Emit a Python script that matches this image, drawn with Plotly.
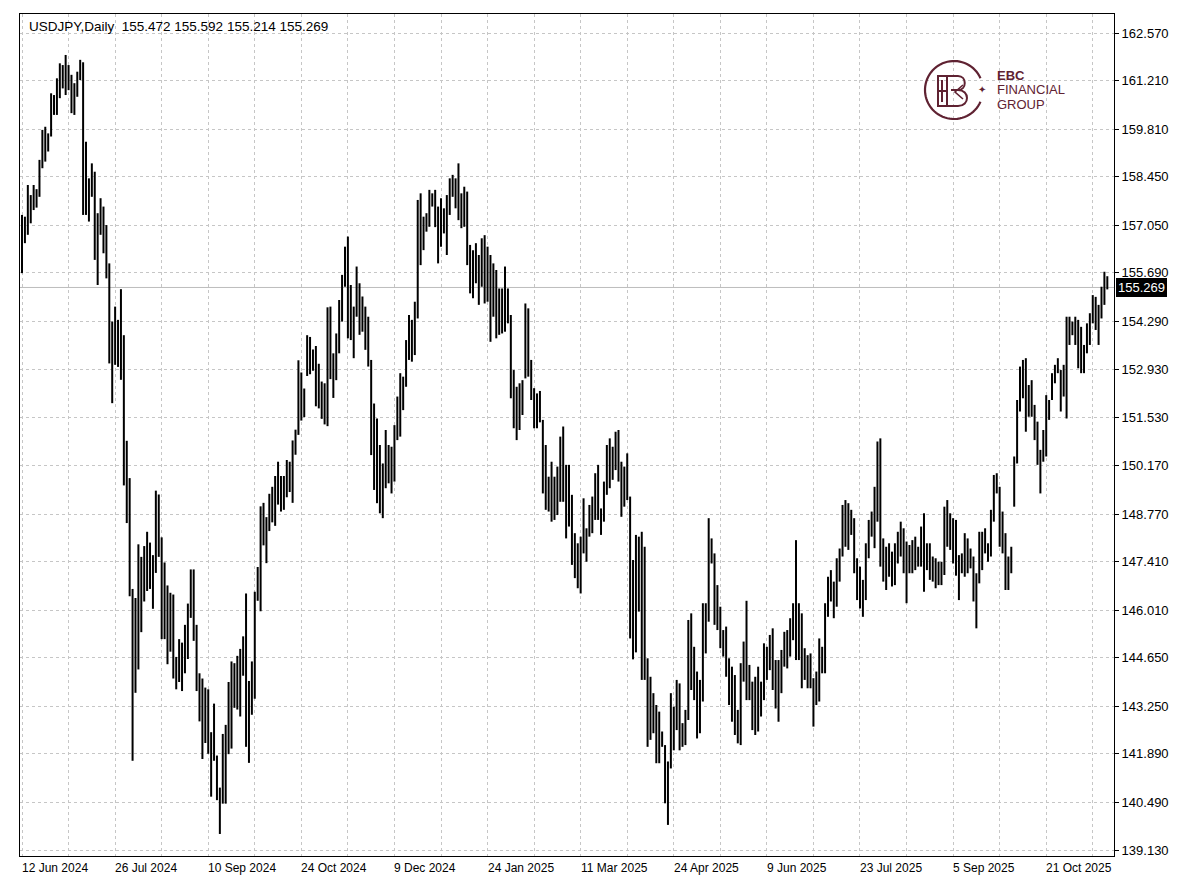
import plotly.graph_objects as go
import numpy as np

# ---------------- data ----------------
symbol_title = "USDJPY,Daily"
last_ohlc = [155.472, 155.592, 155.214, 155.269]

highs = [
    157.35, 157.30, 158.21, 157.92, 158.21, 158.09, 158.93, 159.79, 159.88, 159.69,
    160.84, 160.79, 161.27, 161.70, 161.65, 161.94, 161.65, 161.37, 161.13, 161.46,
    161.80, 161.73, 159.45, 158.40, 158.83, 158.59, 157.40, 157.83, 157.59, 157.06,
    155.96, 154.29, 154.72, 154.34, 155.22, 153.90, 150.87, 149.80, 146.62, 146.36,
    147.90, 147.54, 147.85, 148.26, 147.95, 147.59, 149.44, 149.33, 148.10, 147.38,
    146.72, 146.51, 146.46, 144.67, 145.18, 145.08, 145.59, 146.20, 147.18, 147.18,
    145.59, 144.20, 144.05, 143.79, 143.74, 142.51, 143.33, 141.84, 140.92, 142.46,
    142.72, 143.95, 144.54, 144.49, 144.70, 144.90, 145.26, 146.49, 143.98, 144.54,
    146.54, 147.25, 148.99, 149.09, 148.68, 149.35, 149.55, 149.86, 150.27, 149.86,
    149.86, 150.32, 150.27, 150.88, 151.19, 153.18, 152.83, 152.37, 153.90, 153.85,
    153.49, 153.59, 153.08, 152.57, 152.52, 154.70, 154.72, 153.38, 153.95, 154.91,
    155.63, 156.44, 156.73, 155.34, 154.72, 155.87, 155.39, 155.01, 154.72, 154.43,
    153.19, 151.94, 151.51, 150.75, 150.22, 151.18, 150.75, 150.70, 151.32, 152.14,
    152.81, 152.71, 153.76, 154.48, 154.34, 154.86, 157.78, 157.97, 157.30, 157.40,
    158.07, 157.97, 158.07, 157.59, 157.83, 157.54, 157.92, 158.40, 158.50, 158.40,
    158.83, 157.97, 158.16, 158.02, 156.49, 156.34, 156.54, 156.20, 156.68, 156.77,
    156.44, 156.20, 155.96, 155.77, 155.24, 155.24, 155.87, 155.24, 154.48, 152.90,
    152.42, 152.52, 152.61, 154.81, 154.67, 153.19, 152.38, 152.23, 152.30, 151.47,
    150.75, 149.84, 150.27, 149.84, 150.13, 150.99, 151.28, 150.18, 150.18, 149.32,
    148.22, 147.93, 148.12, 149.22, 148.36, 149.03, 149.27, 149.94, 150.18, 148.93,
    149.70, 150.75, 150.94, 150.70, 151.13, 151.18, 150.27, 150.13, 150.51, 149.27,
    147.45, 148.17, 148.12, 148.26, 147.83, 144.63, 144.10, 143.63, 143.29, 143.10,
    142.53, 142.14, 141.67, 143.63, 143.24, 144.01, 143.91, 142.77, 143.15, 145.73,
    145.92, 144.96, 144.25, 144.01, 146.21, 146.21, 148.65, 148.07, 147.64, 146.73,
    146.11, 145.44, 145.54, 144.63, 144.39, 144.15, 143.15, 144.49, 145.11, 146.28,
    144.44, 143.96, 144.10, 144.39, 143.96, 145.06, 144.96, 145.30, 145.49, 144.58,
    144.58, 144.87, 145.39, 145.44, 145.78, 146.21, 148.02, 146.21, 145.92, 144.92,
    144.72, 144.77, 144.06, 144.25, 145.20, 144.96, 146.21, 146.97, 147.16, 146.83,
    147.50, 147.78, 149.03, 149.17, 149.08, 148.89, 148.65, 147.50, 147.26, 146.88,
    147.93, 148.60, 148.84, 149.55, 150.85, 150.94, 148.07, 147.83, 147.93, 147.69,
    147.93, 148.26, 148.55, 148.36, 147.98, 147.88, 148.02, 148.12, 147.83, 148.41,
    148.79, 147.93, 147.93, 147.55, 147.50, 147.40, 147.40, 148.98, 149.17, 148.79,
    148.65, 148.60, 147.59, 147.64, 148.22, 148.07, 147.78, 147.55, 147.07, 148.26,
    148.26, 148.36, 147.93, 148.89, 149.89, 149.94, 149.55, 148.84, 148.22, 147.55,
    147.83, 150.42, 152.04, 153.00, 153.19, 153.24, 152.47, 152.61, 151.90, 151.42,
    150.61, 151.18, 152.18, 152.04, 152.81, 153.05, 153.24, 152.90, 153.05, 154.43,
    154.43, 154.29, 154.43, 154.34, 154.14, 153.62, 154.24, 154.53, 155.05, 155.00,
    154.77, 155.29, 155.72, 155.592,
]

lows = [
    155.68, 156.54, 156.78, 157.11, 157.49, 157.56, 157.87, 158.69, 158.88, 159.17,
    159.60, 160.22, 160.22, 160.70, 160.98, 160.79, 160.93, 160.27, 160.22, 160.74,
    161.22, 157.35, 157.35, 157.16, 157.87, 156.06, 155.34, 156.78, 156.25, 155.53,
    153.09, 151.95, 153.05, 152.99, 152.62, 149.59, 148.51, 146.41, 141.69, 143.64,
    144.31, 145.38, 146.26, 146.56, 146.62, 146.05, 147.08, 147.54, 145.18, 145.18,
    144.46, 144.82, 144.05, 143.74, 143.95, 143.69, 144.20, 144.61, 145.79, 145.13,
    143.69, 142.82, 141.74, 142.20, 141.89, 140.66, 141.69, 140.56, 139.59, 140.46,
    140.46, 141.88, 142.04, 143.21, 143.16, 142.96, 144.13, 142.09, 141.63, 143.01,
    143.47, 146.28, 145.98, 147.87, 147.36, 148.28, 148.53, 148.43, 149.04, 148.84,
    148.89, 149.25, 149.40, 149.09, 150.47, 151.04, 151.45, 151.55, 152.73, 152.78,
    152.88, 151.86, 151.80, 151.50, 151.34, 151.29, 152.64, 152.10, 152.61, 153.38,
    154.29, 155.29, 153.81, 153.76, 153.24, 154.43, 153.91, 154.00, 153.48, 153.00,
    150.46, 149.46, 149.08, 148.79, 148.65, 149.51, 149.65, 149.36, 149.70, 150.89,
    150.99, 151.75, 152.42, 153.19, 153.14, 153.33, 154.38, 155.91, 156.34, 156.87,
    157.01, 157.59, 157.00, 155.96, 156.44, 156.82, 156.20, 157.35, 157.87, 157.54,
    157.20, 156.97, 157.01, 155.91, 155.10, 154.96, 155.39, 154.77, 155.29, 154.81,
    154.86, 153.71, 154.43, 153.81, 153.91, 153.95, 154.00, 154.24, 152.09, 151.23,
    150.89, 151.18, 151.61, 152.66, 152.71, 152.04, 151.23, 151.23, 151.40, 149.36,
    148.89, 148.84, 148.55, 148.60, 148.74, 149.12, 149.12, 148.07, 148.41, 147.31,
    146.93, 146.64, 146.49, 147.64, 147.40, 148.12, 148.22, 148.60, 148.60, 148.17,
    148.55, 149.32, 149.51, 149.75, 150.03, 149.70, 148.69, 148.98, 149.17, 145.20,
    144.60, 144.80, 145.97, 144.01, 144.01, 142.09, 142.29, 142.48, 141.62, 141.62,
    142.09, 140.47, 139.85, 141.47, 141.99, 142.57, 141.99, 142.09, 142.14, 142.86,
    143.72, 143.43, 142.33, 142.48, 143.39, 144.77, 145.68, 147.35, 145.59, 145.44,
    144.92, 144.68, 144.10, 143.29, 142.81, 142.43, 142.19, 142.14, 143.96, 143.43,
    143.43, 142.57, 142.43, 142.53, 142.96, 143.43, 144.01, 144.29, 143.72, 143.19,
    142.81, 143.63, 144.39, 144.34, 144.68, 145.15, 144.58, 144.58, 143.77, 144.01,
    143.77, 143.77, 142.67, 143.29, 143.39, 144.20, 144.20, 145.82, 146.26, 145.78,
    146.11, 146.83, 147.55, 147.83, 147.74, 148.17, 147.07, 146.30, 146.06, 145.82,
    146.30, 147.50, 148.12, 147.79, 148.55, 147.26, 146.83, 146.59, 146.97, 146.69,
    146.73, 147.35, 147.55, 147.07, 146.21, 147.07, 147.07, 147.16, 147.26, 147.26,
    146.54, 147.16, 146.88, 146.83, 146.64, 146.73, 146.73, 147.02, 147.83, 147.74,
    147.35, 147.00, 146.30, 147.07, 146.97, 147.07, 147.21, 146.26, 145.49, 146.78,
    147.16, 147.64, 147.40, 147.55, 148.55, 149.36, 147.83, 147.64, 146.59, 146.59,
    147.07, 148.98, 150.22, 151.71, 152.09, 151.13, 151.56, 151.56, 150.89, 150.18,
    149.36, 150.27, 150.42, 151.47, 152.04, 152.52, 152.81, 151.71, 152.14, 151.51,
    153.62, 153.90, 153.62, 152.95, 152.81, 152.81, 153.38, 153.62, 154.24, 154.05,
    153.62, 154.38, 154.77, 155.214,
]

closes = [
    156.9, 157.0, 157.8, 157.7, 157.9, 157.9, 158.8, 159.3, 159.6, 159.65,
    160.7, 160.6, 161.0, 161.5, 161.3, 161.5, 161.0, 160.6, 161.0, 161.3,
    161.6, 158.9, 157.6, 158.2, 158.3, 156.5, 157.0, 157.3, 156.6, 155.7,
    153.7, 153.9, 153.8, 153.1, 153.3, 150.0, 149.3, 146.5, 144.2, 145.2,
    146.8, 147.2, 146.8, 147.3, 147.2, 147.5, 148.8, 147.7, 146.3, 145.9,
    146.2, 145.2, 144.4, 144.4, 144.8, 144.6, 145.2, 146.0, 146.6, 145.4,
    143.8, 143.4, 142.7, 143.1, 142.3, 141.7, 141.7, 140.8, 140.6, 142.3,
    142.6, 143.7, 143.8, 143.6, 144.2, 144.6, 145.0, 142.2, 143.6, 143.7,
    146.4, 146.9, 148.5, 148.2, 148.5, 149.2, 149.1, 149.5, 149.2, 149.4,
    149.6, 149.9, 149.8, 150.7, 151.1, 152.0, 151.8, 152.3, 153.3, 153.3,
    153.0, 152.0, 152.0, 151.6, 151.6, 154.6, 152.8, 152.7, 153.6, 154.6,
    155.4, 156.2, 154.2, 154.7, 154.6, 154.8, 154.3, 154.2, 154.3, 153.1,
    151.2, 151.1, 149.8, 149.6, 150.0, 150.6, 150.0, 150.0, 151.2, 151.9,
    152.4, 152.5, 153.6, 153.9, 153.6, 154.6, 157.4, 156.4, 157.1, 157.2,
    157.8, 157.8, 157.4, 157.2, 157.3, 157.2, 157.6, 158.1, 158.0, 158.1,
    157.5, 157.9, 157.3, 156.0, 155.6, 155.8, 155.6, 155.5, 156.2, 156.0,
    156.0, 155.4, 155.1, 155.0, 154.5, 155.2, 154.5, 154.4, 152.5, 151.4,
    151.4, 152.2, 152.6, 154.4, 152.8, 152.2, 151.5, 151.9, 151.4, 149.8,
    149.3, 149.5, 149.0, 149.6, 149.6, 150.7, 149.3, 148.9, 148.6, 147.7,
    147.4, 147.2, 147.8, 147.8, 148.3, 148.7, 149.2, 149.7, 148.7, 148.8,
    149.6, 150.6, 149.9, 150.6, 151.0, 149.9, 149.6, 149.6, 149.2, 146.1,
    146.8, 147.8, 146.3, 147.8, 144.4, 143.5, 143.3, 142.6, 142.9, 142.4,
    142.1, 140.9, 141.5, 143.4, 142.6, 143.6, 142.3, 142.4, 143.0, 145.4,
    144.9, 143.7, 142.6, 143.8, 145.9, 145.4, 148.4, 147.4, 145.8, 145.6,
    145.0, 145.2, 144.3, 143.6, 143.8, 142.7, 142.9, 144.4, 144.7, 143.9,
    143.6, 142.9, 143.8, 143.6, 143.5, 144.8, 144.6, 144.9, 144.5, 143.5,
    144.1, 144.7, 144.8, 145.3, 145.5, 146.0, 146.1, 145.0, 144.3, 144.6,
    144.1, 144.0, 143.6, 143.9, 144.9, 144.5, 146.1, 146.5, 146.3, 146.6,
    147.4, 147.7, 148.6, 148.0, 148.5, 148.4, 147.3, 146.6, 146.4, 146.5,
    147.7, 148.5, 148.4, 149.4, 149.7, 147.4, 147.1, 147.5, 147.2, 147.3,
    147.7, 147.9, 147.8, 147.6, 147.4, 147.6, 147.5, 147.7, 147.5, 148.1,
    147.4, 147.6, 147.2, 147.1, 147.0, 147.2, 147.1, 148.5, 148.3, 148.0,
    147.5, 147.3, 147.4, 147.4, 147.7, 147.5, 147.3, 146.6, 146.9, 147.8,
    147.8, 147.8, 147.7, 148.7, 149.7, 149.5, 148.2, 147.9, 147.0, 147.2,
    147.5, 150.3, 151.9, 152.6, 152.9, 151.7, 152.1, 151.7, 151.1, 150.4,
    150.6, 150.8, 151.8, 152.0, 152.7, 152.9, 152.9, 152.6, 152.2, 154.0,
    154.0, 154.1, 153.7, 153.2, 153.1, 153.5, 154.0, 154.4, 154.6, 154.5,
    154.5, 155.0, 155.472, 155.269,
]

first_open = 157.20
opens = [first_open] + closes[:-1]          # FX daily open = previous close
bar_index = list(range(len(highs)))

date_label_index = [0, 32, 64, 96, 128, 160, 192, 224, 256, 288, 320, 352]
date_labels = ["12 Jun 2024", "26 Jul 2024", "10 Sep 2024", "24 Oct 2024",
               "9 Dec 2024", "24 Jan 2025", "11 Mar 2025", "24 Apr 2025",
               "9 Jun 2025", "23 Jul 2025", "5 Sep 2025", "21 Oct 2025"]

price_ticks = [162.570, 161.210, 159.810, 158.450, 157.050, 155.690, 154.290,
               152.930, 151.530, 150.170, 148.770, 147.410, 146.010, 144.650,
               143.250, 141.890, 140.490, 139.130]

# ---------------- layout geometry (pixels) ----------------
W, H = 1200, 896
L, R, T, B = 20, 1114, 14, 856
PW, PH = R - L, B - T


def px(x):
    return (x - L) / PW


def py(y):
    return (B - y) / PH


def ppath(cmds):
    """Build an SVG path in paper coordinates from pixel-space commands."""
    out = []
    for c in cmds:
        if isinstance(c, str):
            out.append(c)
        else:
            out.append(f"{px(c[0]):.5f},{py(c[1]):.5f}")
    return " ".join(out)


GRID = "#c6c6c6"
MAROON = "#5f2232"
FONT = "Liberation Sans, Arial, sans-serif"

fig = go.Figure(go.Ohlc(
    x=bar_index, open=opens, high=highs, low=lows, close=closes,
    increasing=dict(line=dict(color="#000000", width=2)),
    decreasing=dict(line=dict(color="#000000", width=2)),
    tickwidth=0, hoverinfo="skip", showlegend=False,
))

fig.update_layout(
    width=W, height=H,
    margin=dict(l=L, r=W - R, t=T, b=H - B, pad=0),
    paper_bgcolor="white", plot_bgcolor="white",
    font=dict(family=FONT, size=12, color="black"),
    showlegend=False,
    xaxis=dict(
        range=[-0.69, 375.3], rangeslider=dict(visible=False),
        tickvals=list(range(0, 376, 16)), showticklabels=False, ticks="",
        showgrid=True, gridcolor=GRID, griddash="3px,3px", gridwidth=1,
        zeroline=False, showline=True, linecolor="black", linewidth=1, mirror=True,
    ),
    yaxis=dict(
        side="right", range=[138.958, 163.115],
        tickvals=price_ticks, ticktext=[f"{v:.3f}" for v in price_ticks],
        ticks="outside", ticklen=4, tickcolor="black",
        showgrid=True, gridcolor=GRID, griddash="3px,3px", gridwidth=1,
        zeroline=False, showline=True, linecolor="black", linewidth=1, mirror=True,
        tickfont=dict(family=FONT, size=13, color="black"),
    ),
)

# last price line
fig.add_shape(type="line", xref="paper", yref="y", x0=0, x1=1,
              y0=last_ohlc[3], y1=last_ohlc[3],
              line=dict(color="#bdbdbd", width=1), layer="below")

annotations = []
# date labels (left aligned at their bar like MetaTrader)
for idx, txt in zip(date_label_index, date_labels):
    annotations.append(dict(x=idx, xref="x", y=0, yref="paper", text=txt,
                            xanchor="left", yanchor="top", yshift=-3, xshift=-2,
                            showarrow=False, font=dict(family=FONT, size=12, color="black")))

# price label box
annotations.append(dict(x=1, xref="paper", y=last_ohlc[3], yref="y",
                        text=f"{last_ohlc[3]:.3f}", xanchor="left", yanchor="middle",
                        xshift=2, showarrow=False, bgcolor="black", bordercolor="black",
                        borderpad=1, font=dict(family=FONT, size=13, color="white")))

# title
title_txt = symbol_title + "&nbsp; " + " ".join(f"{v:.3f}" for v in last_ohlc)
annotations.append(dict(x=px(27), xref="paper", y=py(26), yref="paper",
                        text=title_txt, xanchor="left", yanchor="middle",
                        showarrow=False, font=dict(family=FONT, size=13.5, color="black")))

# ---------------- logo ----------------
cx, cy, rr = 954, 90, 29
ang = np.radians(np.linspace(24, 336, 64))
arc = ["M"] + [x for a in ang for x in ((cx + rr * np.cos(a), cy - rr * np.sin(a)), "L")][:-1]
fig.add_shape(type="path", xref="paper", yref="paper", path=ppath(arc),
              line=dict(color=MAROON, width=2.2))
# stylised "E"
e_path = ["M", (951, 76), "L", (938, 76), "L", (938, 106), "L", (951, 106),
          "M", (938, 91), "L", (948, 91),
          "M", (942, 80), "L", (942, 102)]
fig.add_shape(type="path", xref="paper", yref="paper", path=ppath(e_path),
              line=dict(color=MAROON, width=2))
# stylised "B"
b_path = ["M", (947, 76), "L", (947, 106),
          "M", (947, 76), "L", (958, 76), "C", (967, 76), (967, 90), (958, 90), "L", (951, 90),
          "M", (958, 90), "C", (970, 90), (970, 106), (958, 106), "L", (947, 106)]
fig.add_shape(type="path", xref="paper", yref="paper", path=ppath(b_path),
              line=dict(color=MAROON, width=2))
# small chevron inside B
c_path = ["M", (963, 85), "L", (955, 92), "L", (963, 99)]
fig.add_shape(type="path", xref="paper", yref="paper", path=ppath(c_path),
              line=dict(color=MAROON, width=1.6))

annotations.append(dict(x=px(982), y=py(90), xref="paper", yref="paper", text="✦",
                        xanchor="center", yanchor="middle",
                        showarrow=False, font=dict(family="DejaVu Sans", size=10, color=MAROON)))
for txt, yy, bold in [("EBC", 75, True), ("FINANCIAL", 90, False), ("GROUP", 104, False)]:
    annotations.append(dict(x=px(995), y=py(yy), xref="paper", yref="paper",
                            text=f"<b>{txt}</b>" if bold else txt,
                            xanchor="left", yanchor="middle", showarrow=False,
                            font=dict(family=FONT, size=13, color=MAROON)))

fig.update_layout(annotations=annotations)

fig.write_html("out.html", config={"displayModeBar": False},
               post_script="document.body.style.margin='0';document.body.style.overflow='hidden';")
